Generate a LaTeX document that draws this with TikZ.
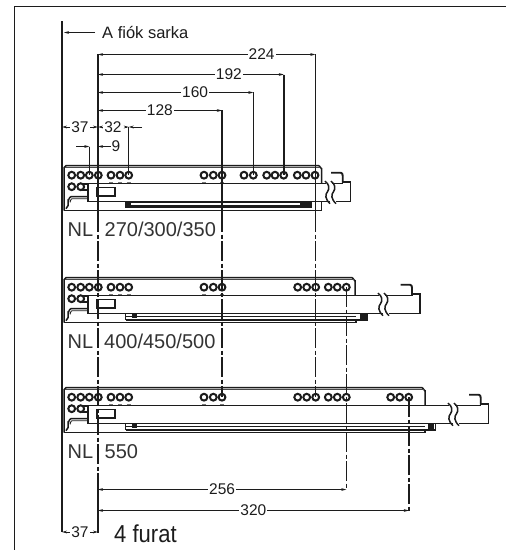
\documentclass[tikz,border=0pt]{standalone}
\usepackage{fontspec}
\setmainfont{Liberation Sans}
\usetikzlibrary{arrows.meta}
\definecolor{ink}{HTML}{1c1c1c}
\tikzset{
 part/.style={draw=ink,line width=1.5pt},
 ringhole/.style={draw=ink,line width=2pt,fill=white},
 tick/.style={draw=ink!60,line width=.8pt},
 refline/.style={draw=ink,line width=1.6pt},
 centreline/.style={draw=ink,line width=1.6pt,dash pattern=on 20pt off 2.5pt on 4pt off 2.5pt},
 dimline/.style={draw=ink,line width=.9pt},
 dimtip/.style={dimline,{Stealth[length=5pt,width=2.8pt,open,fill=ink!60]}-{Stealth[length=5pt,width=2.8pt,open,fill=ink!60]}},
 onetip/.style={dimline,-{Stealth[length=5pt,width=2.8pt,open,fill=ink!60]}},
 dimlabel/.style={fill=white,inner sep=1pt,font=\fontsize{15.5}{18}\selectfont,text=ink},
 biglabel/.style={inner sep=0pt,font=\fontsize{20}{24}\selectfont,text=ink!90,anchor=west},
}
\newcommand{\railunit}[6]{%
 \begin{scope}[shift={(0,#1)}]
  % plate
  \draw[part,fill=white] (64,44.8) -- (64,2) to[out=-90,in=180,looseness=.6] (66,0) -- (#2-3,0) to[out=0,in=-90,looseness=.6] (#2,3) -- (#2,18);
  \draw[draw=ink!80,line width=.9pt] (65,2.2) -- (#2-1.5,2.2);
  \foreach \hx in {71.7,80.7,89.3,98.3,111,120,128.7,204,213.3,222,#6}
    \draw[ringhole] (\hx,9.5) circle[radius=3.4];
  \foreach \hx in {111,120,128.7,204,222}
    \draw[tick] (\hx-2,16.6) -- (\hx+2,16.6);
  \draw[ringhole] (71.7,21) circle[radius=3.4];
  \draw[ringhole] (80.7,21) circle[radius=3.4];
  \draw[draw=ink,line width=1.9pt] (82,18) -- (88,18) (82,24) -- (88,24);
  % left bracket
  \draw[part] (88,31) -- (71,31) to[out=180,in=-90] (68,35) -- (68,40) -- (66,43);
  \draw[draw=ink,line width=.9pt] (88,33) -- (72,33) to[out=180,in=-90] (70,36);
  % slide
  \draw[part,fill=white] (#3+1,18) -- (88,18) -- (88,36) -- (#3+5,36);
  \draw[part] (97,22) rectangle (115,30.5);
  % break
  \foreach \bx in {#3,#3+6}
    \draw[part] (\bx,15.5) .. controls (\bx+4,18) and (\bx+5,23) .. (\bx+2.5,26) .. controls (\bx,29) and (\bx,33) .. (\bx+5,38);
  % far end with hook
  \draw[part] (#3+7,18) -- (#4-8,18) -- (#4-8,16.5) -- (#4,16.5) -- (#4,36) -- (#3+11,36);
  \draw[draw=ink,line width=1.9pt] (#4-19.5,7) -- (#4-10,7) to[out=0,in=90] (#4-8,10) -- (#4-8,17);
  #5
 \end{scope}}
\begin{document}
\begin{tikzpicture}[x=1pt,y=-1pt]
\useasboundingbox (0,0) rectangle (506,550);
\fill[white] (0,0) rectangle (506,550);
% frame
\draw[draw=ink,line width=1.7pt] (14.5,550) -- (14.5,6.5) -- (506,6.5);
% rails
\railunit{165.7}{321.7}{325}{350.7}{%
  \draw[part] (64,45) -- (321.7,45) -- (321.7,36);
  \draw[part] (88,36) -- (321.7,36);
  \fill[ink] (125,36) rectangle (311.7,42);
  \fill[white] (131,37.6) rectangle (300,39);
  }{244,253.3,266.7,275,283.7,297.3,306,315}
\railunit{277.7}{355}{378}{420}{%
  \draw[part] (64,44.6) -- (356,44.6) -- (356,42.4);
  \draw[part] (125.5,42) -- (125.5,36) -- (367,36) -- (367,42.4) -- (125.5,42.4);
  \draw[draw=ink,line width=.9pt] (125.5,39.2) -- (356,39.2);
  \fill[ink] (131.7,36) rectangle (136.7,40);
  \fill[ink] (360,36) rectangle (366,41);
  }{297.7,306.7,315.7,328.3,337.3,346.3}
\railunit{387.7}{425}{448}{488.7}{%
  \draw[part] (64,44.8) -- (425,44.8) -- (425,42.4);
  \draw[part] (125.5,42) -- (125.5,36) -- (435.7,36) -- (435.7,42.4) -- (125.5,42.4);
  \draw[draw=ink,line width=.9pt] (125.5,39.2) -- (425,39.2);
  \fill[ink] (131.7,36) rectangle (136.7,40);
  \fill[ink] (428,36) rectangle (434,41);
  }{297.7,306.7,315.7,328.3,337.3,346.3,390.7,399.7,408.7}
% anchor coordinates
\coordinate (wallT) at (62,21);
\coordinate (wallB) at (62,532);
\coordinate (refT) at (98,54);
\coordinate (refA) at (98,212);
\coordinate (refB) at (98,485);
\coordinate (refC) at (98,533);
% wall and reference
\draw[refline,line width=1.5pt] (wallT) -- (wallB);
\draw[refline] (refT) -- (refA);
\draw[centreline] (refA) -- (refB);
\draw[refline] (refB) -- (refC);
% centre lines
\coordinate (a1) at (221.8,110); \coordinate (a2) at (221.8,212); \coordinate (a3) at (221.8,397);
\draw[refline] (a1) -- (a2); \draw[centreline] (a2) -- (a3);
\coordinate (b1) at (315.3,54); \coordinate (b2) at (315.3,212); \coordinate (b3) at (315.3,397);
\draw[refline] (b1) -- (b2); \draw[centreline] (b2) -- (b3);
\coordinate (c1) at (346.3,287); \coordinate (c2) at (346.3,489.5);
\draw[centreline] (c1) -- (c2);
\coordinate (d1) at (408.7,397); \coordinate (d2) at (408.7,511);
\draw[centreline] (d1) -- (d2);
\coordinate (e1) at (253.3,92); \coordinate (e2) at (253.3,175);
\coordinate (f1) at (283.7,74.5); \coordinate (f2) at (283.7,175);
\coordinate (g1) at (128.7,127); \coordinate (g2) at (128.7,175);
\coordinate (h1) at (89.3,146.5); \coordinate (h2) at (89.3,175);
\draw[refline] (e1) -- (e2) (f1) -- (f2);
\draw[refline,line width=1.3pt] (g1) -- (g2) (h1) -- (h2);
% A fiok sarka
\coordinate (cornerfrom) at (95,32.5);
\coordinate (cornerto) at (64,32.5);
\draw[onetip] (cornerfrom) -- (cornerto);
\node[anchor=west,inner sep=0pt,font=\fontsize{16.5}{20}\selectfont,text=ink] (corner) at (102,32.5) {A fiók sarka};
% dimensions
\draw[dimtip] (98,54.5) -- node[dimlabel,pos=.753] (d224) {224} (315.3,54.5);
\draw[dimtip] (98,74.5) -- node[dimlabel,pos=.705] (d192) {192} (283.7,74.5);
\draw[dimtip] (98,92.5) -- node[dimlabel,pos=.625] (d160) {160} (253.3,92.5);
\draw[dimtip] (98,110.5) -- node[dimlabel,pos=.5] (d128) {128} (221.8,110.5);
\draw[dimtip] (62,127) -- node[dimlabel] (d37a) {37} (98,127);
\draw[onetip] (110,127) -- (98,127);
\node[dimlabel] (d32) at (113,127) {32};
\draw[onetip] (126,127) -- (128.7,127);
\draw[onetip] (142,127) -- (128.7,127);
\draw[onetip] (76,146.5) -- (89.3,146.5);
\draw[onetip] (111,146.5) -- (98,146.5);
\node[dimlabel] (d9) at (116,146.5) {9};
\draw[dimtip] (98,489.5) -- node[dimlabel,pos=.5] (d256) {256} (346.3,489.5);
\draw[dimtip] (98,510.5) -- node[dimlabel,pos=.5] (d320) {320} (408.7,510.5);
\draw[dimtip] (62,532) -- node[dimlabel] (d37b) {37} (98,532);
% captions
\node[biglabel] (nl1) at (67.5,229.5) {NL};
\node[biglabel] (t1) at (104.5,229.5) {270/300/350};
\node[biglabel] (nl2) at (67.5,341.5) {NL};
\node[biglabel] (t2) at (104,341.5) {400/450/500};
\node[biglabel] (nl3) at (67.5,451.5) {NL};
\node[biglabel] (t3) at (104.5,451.5) {550};
\node[anchor=west,inner sep=0pt,font=\fontsize{24.5}{28}\selectfont,text=ink,xscale=.9] (holes) at (114,534) {4 furat};
\end{tikzpicture}
\end{document}
